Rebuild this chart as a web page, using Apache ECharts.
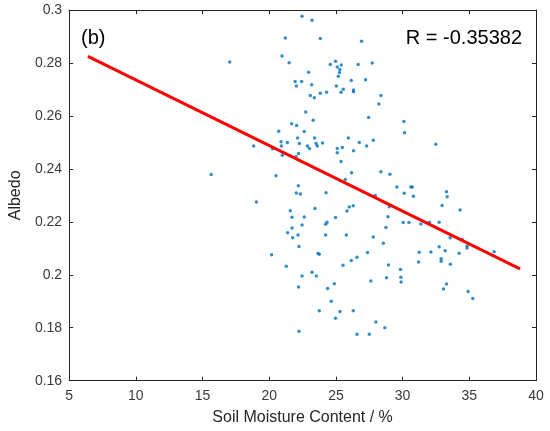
<!DOCTYPE html>
<html>
<head>
<meta charset="utf-8">
<script src="https://cdn.jsdelivr.net/npm/echarts@6/dist/echarts.min.js"></script>
<style>
html,body{margin:0;padding:0;background:#fff;}
#chart{width:550px;height:431px;}
</style>
</head>
<body>
<div id="chart"></div>
<script>
var moisture = [
22.46,21.21,20.96,21.49,17.04,21.94,22.43,22.03,22.74,20.71,21.68,22.05,22.13,20.89,21.36,20.91,22.26,20.24,18.83,22.20,20.98,22.01,15.65,20.51,
23.21,23.83,26.92,24.97,24.58,25.40,25.10,25.30,26.67,27.72,22.95,25.27,25.18,23.18,26.15,27.22,25.03,25.55,26.32,26.32,25.38,24.30,23.83,23.08,23.38,28.37,28.22,23.30,27.45,30.10,30.14,22.63,23.40,22.86,23.01,23.51,23.60,24.00,25.93,26.75,27.80,27.30,25.48,25.10,25.10,26.32,25.38,26.17,28.37,29.05,25.70,
29.57,30.12,32.49,30.62,30.72,30.81,33.29,33.34,27.95,
22.18,22.03,22.33,24.26,29.00,28.90,30.04,28.75,23.43,25.83,26.00,26.30,24.97,22.63,22.46,24.33,24.23,22.16,24.23,25.78,27.80,28.55,22.23,23.66,23.75,27.37,26.58,26.15,25.53,28.94,29.84,23.21,22.46,23.53,28.79,29.87,29.89,27.62,24.88,22.20,24.38,24.65,23.75,25.30,26.30,24.97,28.00,28.67,22.23,26.58,27.50,
32.96,34.31,30.47,31.37,32.01,32.74,33.56,34.46,34.83,34.83,32.74,33.19,32.12,31.24,34.24,36.86,32.89,32.89,33.58,31.19,33.29,33.06,34.91,35.26,
19.04,21.58,21.71,21.71,21.38,21.76,20.18,21.28
];
var albedo = [
0.2976,0.2894,0.2826,0.2801,0.2804,0.2730,0.2730,0.2713,0.2615,0.2542,0.2570,0.2564,0.2517,0.2502,0.2500,0.2486,0.2496,0.2476,0.2486,0.2458,0.2451,0.2446,0.2379,0.2374,
0.2961,0.2892,0.2882,0.2806,0.2794,0.2792,0.2785,0.2775,0.2794,0.2800,0.2765,0.2764,0.2750,0.2718,0.2734,0.2737,0.2713,0.2701,0.2698,0.2691,0.2689,0.2689,0.2686,0.2677,0.2669,0.2677,0.2645,0.2584,0.2594,0.2579,0.2536,0.2541,0.2517,0.2486,0.2477,0.2496,0.2486,0.2498,0.2517,0.2500,0.2508,0.2486,0.2481,0.2477,0.2461,0.2468,0.2428,0.2385,0.2389,0.2380,0.2360,
0.2332,0.2308,0.2493,0.2332,0.2332,0.2297,0.2314,0.2295,0.2299,
0.2336,0.2309,0.2305,0.2310,0.2257,0.2219,0.2197,0.2179,0.2250,0.2241,0.2256,0.2261,0.2216,0.2218,0.2188,0.2198,0.2191,0.2150,0.2150,0.2150,0.2143,0.2119,0.2107,0.2080,0.2078,0.2084,0.2066,0.2054,0.2036,0.2037,0.2020,0.2010,0.1995,0.1995,0.1989,0.1991,0.1973,0.1977,0.1966,0.1954,0.1948,0.1900,0.1864,0.1861,0.1864,0.1836,0.1822,0.1800,0.1787,0.1775,0.1775,
0.2262,0.2245,0.2197,0.2192,0.2198,0.2198,0.2140,0.2134,0.2109,0.2101,0.2106,0.2091,0.2086,0.2085,0.2081,0.2087,0.2061,0.2051,0.2040,0.2048,0.1965,0.1946,0.1937,0.1910,
0.2275,0.2242,0.2217,0.2177,0.2159,0.2140,0.2076,0.2032
];
var fitX = [6.41, 38.80];
var fitY = [0.2825, 0.2022];
var panelLabel = '(b)';
var rLabel = 'R = -0.35382';
var xName = 'Soil Moisture Content / %';
var yName = 'Albedo';

var points = moisture.map(function (x, i) { return [x, albedo[i]]; });
var fitLine = fitX.map(function (x, i) { return [x, fitY[i]]; });

var FONT = 'Liberation Sans, Arial, Helvetica, sans-serif';
var AX = '#262626';

var chart = echarts.init(document.getElementById('chart'), null, {renderer: 'canvas'});
var baseAxis = {
  axisLine: {show: true, onZero: false, lineStyle: {color: AX, width: 1}},
  axisTick: {show: true, inside: true, length: 4, lineStyle: {color: AX}},
  splitLine: {show: false}
};
chart.setOption({
  animation: false,
  backgroundColor: '#fff',
  grid: {left: 68.5, right: 14, top: 10, bottom: 50.3, containLabel: false},
  xAxis: [
    Object.assign({}, baseAxis, {
      type: 'value', min: 5, max: 40, interval: 5, position: 'bottom',
      name: xName, nameLocation: 'middle', nameGap: 29,
      nameTextStyle: {fontFamily: FONT, fontSize: 16, color: '#262626'},
      axisLabel: {margin: 8, fontFamily: FONT, fontSize: 14, color: '#3a3a3a'}
    }),
    Object.assign({}, baseAxis, {
      type: 'value', min: 5, max: 40, interval: 5, position: 'top',
      axisLabel: {show: false}
    })
  ],
  yAxis: [
    Object.assign({}, baseAxis, {
      type: 'value', min: 0.16, max: 0.3, interval: 0.02, position: 'left',
      name: yName, nameLocation: 'middle', nameGap: 37,
      nameTextStyle: {fontFamily: FONT, fontSize: 16, color: '#262626'},
      axisLabel: {margin: 7, fontFamily: FONT, fontSize: 14, color: '#3a3a3a',
        formatter: function (v) { return String(+v.toFixed(2)); }}
    }),
    Object.assign({}, baseAxis, {
      type: 'value', min: 0.16, max: 0.3, interval: 0.02, position: 'right',
      axisLabel: {show: false}
    })
  ],
  series: [
    {
      type: 'scatter', xAxisIndex: 0, yAxisIndex: 0,
      data: points, symbol: 'circle', symbolSize: 3.5,
      itemStyle: {color: '#0072BD'}, silent: true
    },
    {
      type: 'line', xAxisIndex: 0, yAxisIndex: 0,
      data: fitLine, symbol: 'none',
      lineStyle: {color: '#ff0000', width: 3}, silent: true
    }
  ],
  graphic: [
    {type: 'text', left: 81, top: 28, style: {text: panelLabel, font: '20px ' + FONT, fill: '#000'}},
    {type: 'text', right: 28, top: 28, style: {text: rLabel, font: '20px ' + FONT, fill: '#000'}}
  ]
});
</script>
</body>
</html>
